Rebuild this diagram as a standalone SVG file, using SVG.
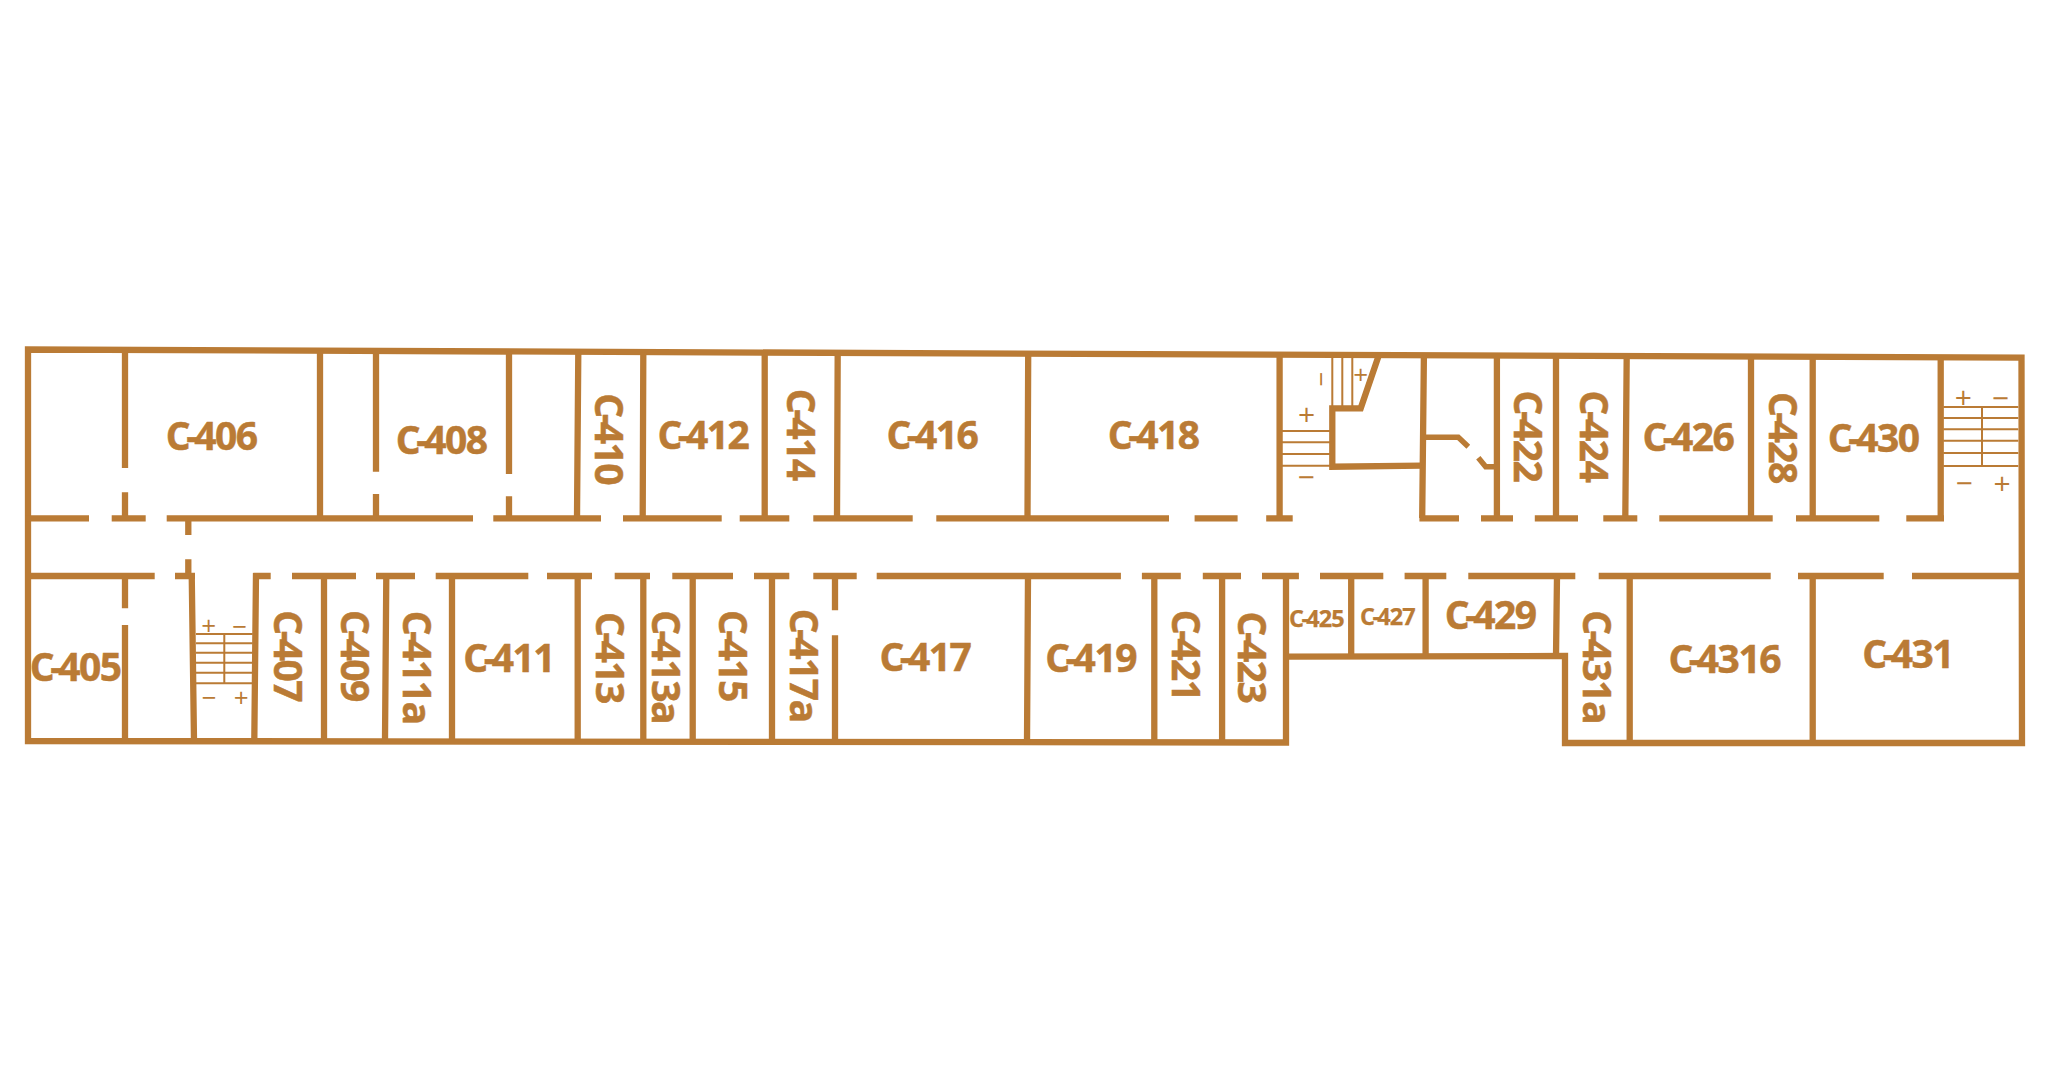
<svg xmlns="http://www.w3.org/2000/svg" width="2048" height="1080" viewBox="0 0 2048 1080">
<style>
.w{fill:none;stroke:#ba7b35;stroke-width:6.3;stroke-linejoin:miter;stroke-linecap:butt}
.d{fill:none;stroke:#ba7b35;stroke-width:5.5;stroke-linejoin:miter}
.t{fill:none;stroke:#ba7b35;stroke-width:2}
text{fill:#ba7b35;font-family:"Open Sans","Noto Sans",sans-serif;text-anchor:middle}
.l{font-size:39px;font-weight:700;letter-spacing:-1.5px;stroke:#ba7b35;stroke-width:.5px}
.s{font-size:23.5px;font-weight:700;letter-spacing:-.9px;stroke:#ba7b35;stroke-width:.25px}
.g{font-size:30px;font-weight:400}
.g2{font-size:26px;font-weight:400}
</style>
<rect width="2048" height="1080" fill="#ffffff"/>
<g id="walls">
<path class="w" d="M1286 576V742.5L28 741V349.5L2021.5 357.7L2022 743H1565V656L1286 656.7"/>
<path class="w" d="M25 518.3H89M111.7 518.3H145.7M166.7 518.3H473M493.3 518.3H601M623 518.3H721.7M739.7 518.3H789.3M813.3 518.3H912.7M936.3 518.3H1169M1194.6 518.3H1237.6M1266.2 518.3H1292.7M1419.4 518.3H1459M1481 518.3H1513M1534.8 518.3H1578M1603.3 518.3H1637.3M1659.3 518.3H1772.7M1796 518.3H1879.3M1906.3 518.3H1944"/>
<path class="w" d="M28 576H154.7M175 576H195M253.3 576H270.7M292 576H356M376 576H415M435.7 576H528.3M547 576H592M614.7 576H650M672.3 576H733M754 576H789.3M813.3 576H856.7M876.7 576H1120.9M1141.9 576H1180.8M1202.8 576H1241M1262 576H1298.9M1320 576H1383.3M1404.6 576H1446.3M1468.3 576H1575.3M1598.7 576H1770.7M1798 576H1883.7M1912 576H2021"/>
<path class="w" d="M125 347V468M125 492.3V518M320 350.5V518M376 351V471.7M376 494V518M509 351.5V474M509 496.3V518M578.3 352L577 518M643.3 352.2L642.7 518M764.7 352.7V518M837.7 353L837 518M1028.2 353.8L1027.5 518M1279.6 354.8V518M1423.9 355.4L1422.2 518M1496.9 355.7V518M1556 356V518M1626.7 356.3L1625.3 518M1751 356.6V518M1812.7 357V518M1940.7 357.5V521"/>
<path class="w" d="M188.3 521V535M188.3 559.3V576M125 576V608.3M125 625V741M191.7 573L194 741M256 573L254.3 741M324 576V741M386.3 576L385 741M452 576V741M577.7 576V741M643.3 576V741M692.7 576V741M772 576V741M835 576V610.3M835 635.3V741M1028 576L1027 742M1154.3 576V742M1222.1 576V742M1351.2 576V656M1425.6 576V656M1557 576L1556 656M1629.7 576V743M1812.7 576V743"/>
<path class="w" d="M1378.3 356.7L1360.7 408.3H1332.3V466.7L1422 465.7"/>
<path class="d" d="M1424 437.3H1458.3L1468.3 446.7M1478.3 457.7L1485.7 466.7H1497"/>
</g>
<g id="stairs">
<path class="t" d="M1280 431H1332M1280 442.3H1332M1280 454H1332M1280 465.7H1332M1332.3 357V408M1342.3 357V408M1352.3 357V408"/>
<path class="t" d="M196 634H252.7M196 643.3H252.7M196 652.7H252.7M196 662.7H252.7M196 672.7H252.7M196 683.3H252.7M224.3 634V683"/>
<path class="t" d="M1943.3 407H2018.3M1943.3 418H2018.3M1943.3 429.3H2018.3M1943.3 440.7H2018.3M1943.3 453H2018.3M1943.3 466H2018.3M1982 407V466"/>
<text class="g" x="1306.7" y="425">+</text>
<text class="g" x="1306.2" y="488">−</text>
<text class="g2" transform="translate(1360.7 384)">+</text>
<text class="g2" transform="translate(1311.5 379.5) rotate(90)">−</text>
<text class="g2" x="208.7" y="635">+</text>
<text class="g2" x="239.7" y="636">−</text>
<text class="g2" x="209.3" y="707">−</text>
<text class="g2" x="241.3" y="707">+</text>
<text class="g" x="1963.3" y="408">+</text>
<text class="g" x="2000.3" y="409">−</text>
<text class="g" x="1964" y="494">−</text>
<text class="g" x="2002" y="494">+</text>
</g>
<g id="labels">
<text class="l" dx="0 -3 -3" x="211.2" y="450">C-406</text>
<text class="l" dx="0 -3 -3" x="441.2" y="454">C-408</text>
<text class="l" dx="0 -3 -3" x="75.2" y="681">C-405</text>
<text class="l" dx="0 -3 -3" x="508.7" y="672">C-411</text>
<text class="l" dx="0 -3 -3" x="702.9" y="448.7">C-412</text>
<text class="l" dx="0 -3 -3" x="931.9" y="448.7">C-416</text>
<text class="l" dx="0 -3 -3" x="924.9" y="670.7">C-417</text>
<text class="l" dx="0 -3 -3" x="1153.2" y="448.7">C-418</text>
<text class="l" dx="0 -3 -3" x="1090.6" y="672">C-419</text>
<text class="s" dx="0 -1.8 -1.8" x="1316.5" y="627.3">C-425</text>
<text class="s" dx="0 -1.8 -1.8" x="1387.5" y="625">C-427</text>
<text class="l" dx="0 -3 -3" x="1490.2" y="629.3">C-429</text>
<text class="l" dx="0 -3 -3" x="1687.9" y="451">C-426</text>
<text class="l" dx="0 -3 -3" x="1873.2" y="452.3">C-430</text>
<text class="l" dx="0 -3 -3" x="1724.2" y="672.7">C-4316</text>
<text class="l" dx="0 -3 -3" x="1907.7" y="668">C-431</text>
<text class="l" dx="0 -3 -3" transform="translate(273.5 655.7) rotate(90)">C-407</text>
<text class="l" dx="0 -3 -3" transform="translate(340.5 655.4) rotate(90)">C-409</text>
<text class="l" dx="0 -3 -3" transform="translate(403 667.2) rotate(90)">C-411a</text>
<text class="l" dx="0 -3 -3" transform="translate(595 438.7) rotate(90)">C-410</text>
<text class="l" dx="0 -3 -3" transform="translate(786.7 434.2) rotate(90)">C-414</text>
<text class="l" dx="0 -3 -3" transform="translate(595.5 657.4) rotate(90)">C-413</text>
<text class="l" dx="0 -3 -3" transform="translate(652 666.7) rotate(90)">C-413a</text>
<text class="l" dx="0 -3 -3" transform="translate(719.2 655.4) rotate(90)">C-415</text>
<text class="l" dx="0 -3 -3" transform="translate(790 665.2) rotate(90)">C-417a</text>
<text class="l" dx="0 -3 -3" transform="translate(1171.5 655.2) rotate(90)">C-421</text>
<text class="l" dx="0 -3 -3" transform="translate(1238 657) rotate(90)">C-423</text>
<text class="l" dx="0 -3 -3" transform="translate(1514 436) rotate(90)">C-422</text>
<text class="l" dx="0 -3 -3" transform="translate(1579.5 436) rotate(90)">C-424</text>
<text class="l" dx="0 -3 -3" transform="translate(1769 437.4) rotate(90)">C-428</text>
<text class="l" dx="0 -3 -3" transform="translate(1583.2 666.7) rotate(90)">C-431a</text>
</g>
</svg>
